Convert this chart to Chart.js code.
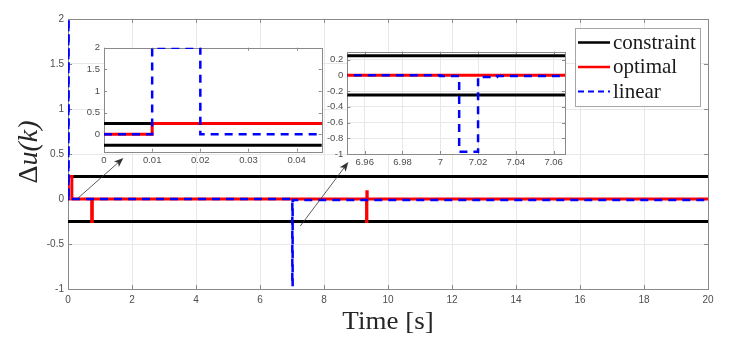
<!DOCTYPE html>
<html>
<head>
<meta charset="utf-8">
<script src="https://cdn.jsdelivr.net/npm/chart.js@4.4.0/dist/chart.umd.min.js"></script>
<style>
html, body { margin: 0; padding: 0; background: #fff; }
#wrap { position: relative; width: 730px; height: 353px; }
#wrap canvas { position: absolute; }
</style>
</head>
<body>
<div id="wrap">
  <canvas id="mainChart" width="730" height="353" style="left:0;top:0"></canvas>
  <canvas id="zoomStart" width="254" height="135" style="left:76px;top:38px"></canvas>
  <canvas id="zoomMid" width="256" height="132" style="left:318px;top:42px"></canvas>
</div>
<script>
// === data ===
const limitT = [0, 20];
const limitUp = [0.25, 0.25];
const limitLow = [-0.25, -0.25];
const optT = [0, 0.01, 0.12, 0.74, 0.76, 9.33, 9.34, 9.35, 20];
const optU = [0, 0.25, 0, -0.25, 0, -0.25, 0.08, 0, 0];
const linT = [0, 0.01, 0.02, 7.0, 7.01, 7.02, 7.03, 20];
const linU = [0, 2, 0, -0.01, -0.97, -0.02, -0.01, -0.01];
const seriesNames = ['constraint', 'optimal', 'linear'];

const mainTicksX = [0, 2, 4, 6, 8, 10, 12, 14, 16, 18, 20];
const mainTicksY = [-1, -0.5, 0, 0.5, 1, 1.5, 2];
const z1TicksX = [0, 0.01, 0.02, 0.03, 0.04];
const z1TicksY = [0, 0.5, 1, 1.5, 2];
const z2TicksX = [6.96, 6.98, 7, 7.02, 7.04, 7.06];
const z2TicksY = [-1, -0.8, -0.6, -0.4, -0.2, 0, 0.2];

// arrows, in main axis units (from -> to)
const arrowFrom = [[0.28, 0], [7.26, -0.3]];
const arrowTo = [[1.73, 0.455], [8.76, 0.41]];

const colors = { constraint: '#000000', optimal: '#ff0000', linear: '#0000ff' };

function pts(t, u) { return t.map((x, i) => ({ x: x, y: u[i] })); }

function makeDatasets(lw) {
    const base = { pointRadius: 0, fill: false, stepped: true, borderCapStyle: 'butt' };
    return [
        Object.assign({}, base, { label: seriesNames[0], data: pts(limitT, limitUp), borderColor: colors.constraint, borderWidth: lw, order: 3 }),
        Object.assign({}, base, { label: seriesNames[0] + ' low', data: pts(limitT, limitLow), borderColor: colors.constraint, borderWidth: lw, order: 3 }),
        Object.assign({}, base, { label: seriesNames[1], data: pts(optT, optU), borderColor: colors.optimal, borderWidth: lw, order: 2 }),
        Object.assign({}, base, { label: seriesNames[2], data: pts(linT, linU), borderColor: colors.linear, borderWidth: lw - 0.5, borderDash: [8, 6], order: 1 })
    ];
}

// white plot area, box and inward tick marks (matlab style)
const frame = {
    id: 'frame',
    beforeDraw(chart, args, o) {
        const a = chart.chartArea, ctx = chart.ctx;
        ctx.save();
        ctx.fillStyle = '#ffffff';
        ctx.fillRect(a.left, a.top, a.right - a.left, a.bottom - a.top);
        ctx.restore();
    },
    beforeDatasetsDraw(chart, args, o) {
        const a = chart.chartArea, ctx = chart.ctx;
        const xs = chart.scales.x, ys = chart.scales.y;
        ctx.save();
        ctx.strokeStyle = o.color;
        ctx.lineWidth = 1;
        ctx.beginPath();
        xs.ticks.forEach(t => {
            const p = Math.round(xs.getPixelForValue(t.value)) + 0.5;
            ctx.moveTo(p, a.bottom); ctx.lineTo(p, a.bottom - o.tick);
            ctx.moveTo(p, a.top); ctx.lineTo(p, a.top + o.tick);
        });
        ys.ticks.forEach(t => {
            const p = Math.round(ys.getPixelForValue(t.value)) + 0.5;
            ctx.moveTo(a.left, p); ctx.lineTo(a.left + o.tick, p);
            ctx.moveTo(a.right, p); ctx.lineTo(a.right - o.tick, p);
        });
        ctx.stroke();
        ctx.strokeRect(Math.round(a.left) + 0.5, Math.round(a.top) + 0.5,
            Math.round(a.right - a.left), Math.round(a.bottom - a.top));
        ctx.restore();
    }
};

function makeChart(id, cfg) {
    const tickFont = { family: 'Liberation Sans, Arial, sans-serif', size: cfg.fontSize };
    const fmt = v => String(+Number(v).toFixed(4));
    return new Chart(document.getElementById(id).getContext('2d'), {
        type: 'line',
        data: { datasets: makeDatasets(cfg.lw) },
        plugins: [frame].concat(cfg.plugins || []),
        options: {
            responsive: false,
            animation: false,
            events: [],
            layout: { padding: cfg.padding },
            plugins: {
                legend: { display: false },
                tooltip: { enabled: false },
                frame: { color: '#8a8a8a', tick: cfg.tick }
            },
            scales: {
                x: {
                    type: 'linear', min: cfg.xMin, max: cfg.xMax,
                    afterBuildTicks: s => { s.ticks = cfg.ticksX.map(v => ({ value: v })); },
                    afterFit: s => { s.height = cfg.xHeight; },
                    ticks: { font: tickFont, color: '#4d4d4d', padding: cfg.xPad, maxRotation: 0, autoSkip: false, callback: fmt },
                    grid: { display: cfg.grid, color: '#e8e8e8', drawTicks: false },
                    border: { display: false }
                },
                y: {
                    type: 'linear', min: cfg.yMin, max: cfg.yMax,
                    afterBuildTicks: s => { s.ticks = cfg.ticksY.map(v => ({ value: v })); },
                    afterFit: s => { s.width = cfg.yWidth; },
                    ticks: { font: tickFont, color: '#4d4d4d', padding: cfg.yPad, autoSkip: false, callback: fmt },
                    grid: { display: cfg.grid, color: '#e8e8e8', drawTicks: false },
                    border: { display: false }
                }
            }
        }
    });
}

// arrows, axis titles and legend on the main figure
const extras = {
    id: 'extras',
    afterDatasetsDraw(chart) {
        const ctx = chart.ctx, xs = chart.scales.x, ys = chart.scales.y;
        ctx.save();
        ctx.strokeStyle = '#333333';
        ctx.fillStyle = '#333333';
        ctx.lineWidth = 0.8;
        arrowFrom.forEach((f, i) => {
            const x0 = xs.getPixelForValue(f[0]), y0 = ys.getPixelForValue(f[1]);
            const x1 = xs.getPixelForValue(arrowTo[i][0]), y1 = ys.getPixelForValue(arrowTo[i][1]);
            const ang = Math.atan2(y1 - y0, x1 - x0);
            ctx.beginPath();
            ctx.moveTo(x0, y0);
            ctx.lineTo(x1 - 6 * Math.cos(ang), y1 - 6 * Math.sin(ang));
            ctx.stroke();
            ctx.beginPath();
            ctx.moveTo(x1, y1);
            ctx.lineTo(x1 - 10 * Math.cos(ang - 0.38), y1 - 10 * Math.sin(ang - 0.38));
            ctx.lineTo(x1 - 7 * Math.cos(ang), y1 - 7 * Math.sin(ang));
            ctx.lineTo(x1 - 10 * Math.cos(ang + 0.38), y1 - 10 * Math.sin(ang + 0.38));
            ctx.closePath();
            ctx.fill();
        });
        ctx.restore();
    },
    afterDraw(chart) {
        const ctx = chart.ctx, a = chart.chartArea;
        ctx.save();
        // x title
        ctx.fillStyle = '#262626';
        ctx.font = '25px "Liberation Serif", "Times New Roman", serif';
        ctx.textAlign = 'center';
        ctx.textBaseline = 'alphabetic';
        ctx.translate((a.left + a.right) / 2 + 0, 329);
        ctx.scale(1.08, 1);
        ctx.fillText('Time [s]', 0, 0);
        ctx.restore();

        // y title: upright Delta + italic u(k)
        ctx.save();
        ctx.fillStyle = '#262626';
        ctx.translate(37, 152);
        ctx.rotate(-Math.PI / 2);
        const f1 = '28px "Liberation Serif", "Times New Roman", serif';
        const f2 = 'italic 28px "Liberation Serif", "Times New Roman", serif';
        ctx.font = f1; const w1 = ctx.measureText('\u0394').width;
        ctx.font = f2; const w2 = ctx.measureText('u(k)').width;
        let x = -(w1 + w2) / 2;
        ctx.textBaseline = 'alphabetic';
        ctx.font = f1; ctx.fillText('\u0394', x, 0);
        ctx.font = f2; ctx.fillText('u(k)', x + w1, 0);
        ctx.restore();

        // legend
        ctx.save();
        const bx = 575.5, by = 28.5, bw = 125, bh = 78;
        ctx.fillStyle = '#ffffff';
        ctx.fillRect(bx, by, bw, bh);
        ctx.strokeStyle = '#a6a6a6';
        ctx.lineWidth = 1;
        ctx.strokeRect(bx, by, bw, bh);
        const rows = [42.5, 67, 91.5];
        const keys = [0, 2, 3];
        ctx.font = '21px "Liberation Serif", "Times New Roman", serif';
        ctx.textBaseline = 'alphabetic';
        keys.forEach((k, i) => {
            const ds = chart.data.datasets[k];
            ctx.strokeStyle = ds.borderColor;
            ctx.lineWidth = k === 3 ? 2 : 2.5;
            ctx.setLineDash(ds.borderDash ? [6, 4] : []);
            ctx.beginPath();
            ctx.moveTo(578, rows[i]);
            ctx.lineTo(610, rows[i]);
            ctx.stroke();
            ctx.setLineDash([]);
            ctx.fillStyle = '#1a1a1a';
            ctx.fillText(ds.label, 613, rows[i] + 6);
        });
        ctx.restore();
    }
};

makeChart('mainChart', {
    xMin: 0, xMax: 20, yMin: -1, yMax: 2,
    ticksX: mainTicksX, ticksY: mainTicksY,
    lw: 3, grid: true, tick: 4, fontSize: 10,
    padding: { left: 0, top: 19, right: 22, bottom: 0 },
    xHeight: 64, yWidth: 68, xPad: 5, yPad: 4,
    plugins: [extras]
});

makeChart('zoomStart', {
    xMin: 0, xMax: 0.0452, yMin: -0.4, yMax: 2,
    ticksX: z1TicksX, ticksY: z1TicksY,
    lw: 3, grid: false, tick: 3, fontSize: 9.5,
    padding: { left: 0, top: 8.7, right: 8.3, bottom: 0 },
    xHeight: 21.3, yWidth: 28, xPad: 3, yPad: 4
});

makeChart('zoomMid', {
    xMin: 6.9508, xMax: 7.066, yMin: -1, yMax: 0.3,
    ticksX: z2TicksX, ticksY: z2TicksY,
    lw: 3, grid: true, tick: 3, fontSize: 9.5,
    padding: { left: 0, top: 8.4, right: 9, bottom: 0 },
    xHeight: 20, yWidth: 29.3, xPad: 3, yPad: 4
});
</script>
</body>
</html>
